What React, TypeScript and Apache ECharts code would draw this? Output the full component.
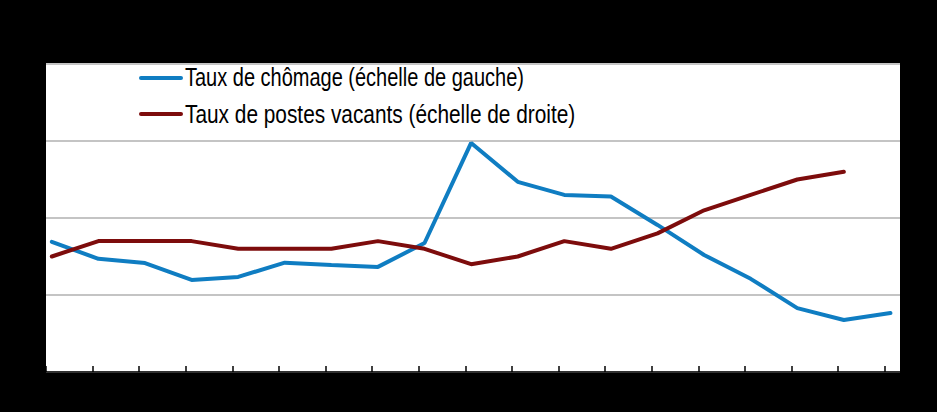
import React, { useEffect, useRef } from "react";
import * as echarts from "echarts";

// Period index (19 periods); ticks sit at each period start, points slightly after
const periods = Array.from({ length: 19 }, (_, i) => i);
const pointOffset = 0.125;
const xMax = 18.33;

// Taux de chômage (échelle de gauche)
const unemployment = [5.38, 4.94, 4.83, 4.39, 4.47, 4.84, 4.78, 4.73, 5.35, 7.95, 6.94, 6.6, 6.56, 5.82, 5.04, 4.42, 3.66, 3.35, 3.53];
// Taux de postes vacants (échelle de droite)
const vacancies = [1.5, 1.7, 1.7, 1.7, 1.6, 1.6, 1.6, 1.7, 1.6, 1.4, 1.5, 1.7, 1.6, 1.8, 2.1, 2.3, 2.5, 2.6, null];

const seriesNames = ["Taux de chômage (échelle de gauche)", "Taux de postes vacants (échelle de droite)"];
const seriesColors = ["#0f7dc2", "#7d0c0c"];

export default function App() {
  const ref = useRef<HTMLDivElement>(null);
  useEffect(() => {
    document.body.style.margin = "0";
    document.body.style.background = "#000";
    const chart = echarts.init(ref.current!, null, { renderer: "svg" });
    const font = "'Liberation Sans', Arial, sans-serif";
    const legendRows = [78, 114];
    const legendScale = [0.8, 0.834];
    const legendGraphics = seriesNames.map((name, i) => ({
      type: "group",
      children: [
        {
          type: "line",
          shape: { x1: 141, y1: legendRows[i], x2: 181, y2: legendRows[i] },
          style: { stroke: seriesColors[i], lineWidth: 4, lineCap: "round" },
        },
        {
          type: "text",
          x: 185,
          y: legendRows[i],
          scaleX: legendScale[i],
          style: {
            text: name,
            fontFamily: font,
            fontSize: 25,
            fill: "#000",
            align: "left",
            verticalAlign: "middle",
          },
        },
      ],
    }));
    chart.setOption({
      animation: false,
      backgroundColor: "#000",
      grid: {
        left: 46,
        top: 64,
        width: 854,
        height: 308,
        show: true,
        backgroundColor: "#fff",
        borderWidth: 0,
      },
      graphic: legendGraphics,
      xAxis: {
        type: "value",
        min: 0,
        max: xMax,
        interval: 1,
        axisLine: { show: true, lineStyle: { color: "#000", width: 1.5 } },
        axisTick: {
          show: true,
          inside: true,
          length: 6,
          customValues: periods,
          lineStyle: { color: "#000", width: 1.5 },
        },
        axisLabel: { show: false },
        splitLine: { show: false },
      },
      yAxis: [
        {
          type: "value",
          min: 2,
          max: 10,
          interval: 2,
          axisLine: { show: false },
          axisTick: { show: false },
          axisLabel: { show: false },
          splitLine: { show: true, lineStyle: { color: "#c4c4c4", width: 2 } },
        },
        {
          type: "value",
          min: 0,
          max: 4,
          interval: 1,
          axisLine: { show: false },
          axisTick: { show: false },
          axisLabel: { show: false },
          splitLine: { show: false },
        },
      ],
      series: [
        {
          name: seriesNames[0],
          type: "line",
          yAxisIndex: 0,
          symbol: "none",
          data: unemployment.map((v, i) => [periods[i] + pointOffset, v]),
          lineStyle: { color: seriesColors[0], width: 4, cap: "round" },
          itemStyle: { color: seriesColors[0] },
        },
        {
          name: seriesNames[1],
          type: "line",
          yAxisIndex: 1,
          symbol: "none",
          data: vacancies.map((v, i) => [periods[i] + pointOffset, v]),
          lineStyle: { color: seriesColors[1], width: 4, cap: "round" },
          itemStyle: { color: seriesColors[1] },
        },
      ],
    });
    return () => chart.dispose();
  }, []);
  return <div ref={ref} style={{ width: 937, height: 412 }} />;
}
